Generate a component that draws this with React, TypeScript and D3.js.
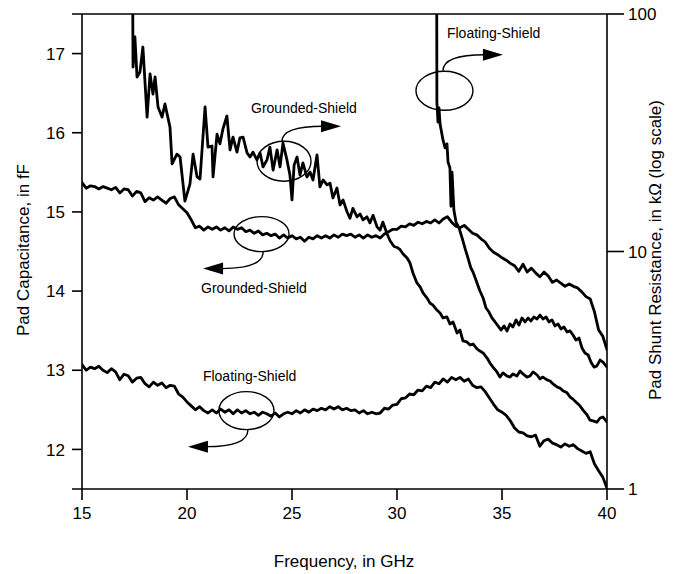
import React from 'react';
import * as d3 from 'd3';

// Measurement sweep: 15–40 GHz in 0.2 GHz steps (capacitance traces)
const capFreq: number[] = d3.range(0, 126).map((i) => +(15 + i * 0.2).toFixed(1));

// Pad capacitance, grounded shield (fF)
const groundedCap: number[] = [
  15.37, 15.30, 15.33, 15.32, 15.29, 15.32, 15.30, 15.28, 15.31, 15.24,
  15.29, 15.28, 15.20, 15.26, 15.24, 15.13, 15.18, 15.15, 15.19, 15.15,
  15.11, 15.17, 15.19, 15.09, 15.04, 14.99, 14.90, 14.80, 14.82, 14.77,
  14.81, 14.78, 14.81, 14.77, 14.80, 14.76, 14.81, 14.78, 14.80, 14.75,
  14.77, 14.73, 14.76, 14.71, 14.73, 14.70, 14.72, 14.67, 14.71, 14.67,
  14.70, 14.66, 14.68, 14.63, 14.68, 14.66, 14.70, 14.67, 14.70, 14.67,
  14.71, 14.68, 14.72, 14.70, 14.72, 14.68, 14.71, 14.67, 14.71, 14.68,
  14.70, 14.67, 14.72, 14.75, 14.78, 14.78, 14.82, 14.81, 14.85, 14.83,
  14.87, 14.85, 14.88, 14.86, 14.90, 14.86, 14.91, 14.94, 14.87, 14.82,
  14.80, 14.83, 14.78, 14.73, 14.71, 14.66, 14.62, 14.54, 14.49, 14.46,
  14.42, 14.39, 14.35, 14.32, 14.25, 14.34, 14.24, 14.29, 14.23, 14.18,
  14.24, 14.19, 14.11, 14.14, 14.10, 14.06, 14.09, 14.06, 14.04, 13.99,
  13.93, 13.90, 13.74, 13.51, 13.43, 13.26,
];

// Pad capacitance, floating shield (fF)
const floatingCap: number[] = [
  13.07, 13.00, 13.04, 13.02, 13.05, 13.00, 12.97, 13.02, 12.98, 12.88,
  12.95, 12.93, 12.85, 12.90, 12.91, 12.83, 12.79, 12.85, 12.81, 12.84,
  12.78, 12.81, 12.80, 12.70, 12.66, 12.60, 12.55, 12.50, 12.54, 12.49,
  12.46, 12.50, 12.46, 12.51, 12.47, 12.50, 12.45, 12.50, 12.46, 12.49,
  12.45, 12.47, 12.43, 12.47, 12.45, 12.42, 12.46, 12.41, 12.45, 12.47,
  12.45, 12.49, 12.46, 12.50, 12.47, 12.51, 12.49, 12.52, 12.50, 12.54,
  12.51, 12.54, 12.50, 12.52, 12.49, 12.50, 12.46, 12.49, 12.45, 12.47,
  12.45, 12.46, 12.52, 12.51, 12.56, 12.57, 12.64, 12.65, 12.70, 12.69,
  12.75, 12.74, 12.80, 12.78, 12.85, 12.83, 12.89, 12.85, 12.91, 12.88,
  12.91, 12.86, 12.89, 12.81, 12.78, 12.79, 12.73, 12.65, 12.57, 12.50,
  12.47, 12.43, 12.36, 12.27, 12.22, 12.21, 12.17, 12.16, 12.18, 12.04,
  12.11, 12.13, 12.08, 12.06, 12.03, 12.07, 12.04, 12.06, 12.01, 11.98,
  11.95, 11.97, 11.82, 11.73, 11.65, 11.51,
];

// Pad shunt resistance, grounded shield (GHz, kΩ)
const groundedResFreq: number[] = [
  17.33, 17.43, 17.52, 17.62, 17.76, 17.90, 18.10, 18.24, 18.38, 18.48,
  18.62, 18.81, 18.95, 19.19, 19.29, 19.52, 19.67, 19.90, 20.14, 20.29,
  20.48, 20.62, 20.86, 21.00, 21.19, 21.24, 21.43, 21.57, 21.71, 21.90,
  22.05, 22.19, 22.38, 22.52, 22.67, 22.86, 23.00, 23.14, 23.33, 23.48,
  23.62, 23.81, 23.95, 24.10, 24.29, 24.43, 24.57, 24.76, 24.90, 25.00,
  25.10, 25.24, 25.38, 25.52, 25.71, 25.86, 26.00, 26.19, 26.33, 26.48,
  26.67, 26.81, 26.95, 27.14, 27.29, 27.43, 27.62, 27.76, 27.90, 28.10,
  28.24, 28.38, 28.57, 28.71, 28.86, 29.05, 29.19, 29.33, 29.52, 29.67,
  29.86, 30.00, 30.14, 30.29, 30.48, 30.62, 30.76, 30.95, 31.10, 31.24,
  31.43, 31.57, 31.71, 31.90, 32.05, 32.19, 32.38, 32.52, 32.67, 32.86,
  33.00, 33.14, 33.33, 33.48, 33.62, 33.81, 33.95, 34.10, 34.29, 34.43,
  34.57, 34.76, 34.90, 35.05, 35.24, 35.38, 35.52, 35.71, 35.86, 36.00,
  36.19, 36.33, 36.48, 36.67, 36.81, 36.95, 37.14, 37.29, 37.43, 37.62,
  37.76, 37.90, 38.10, 38.24, 38.38, 38.57, 38.71, 38.86, 39.05, 39.19,
  39.38, 39.52, 39.67, 39.81, 40.00,
];
const groundedRes: number[] = [
  5000, 59.8, 80.0, 54.3, 57.0, 72.6, 36.8, 55.9, 46.0, 54.3,
  40.6, 36.8, 41.8, 33.4, 23.4, 25.7, 25.0, 16.3, 19.2, 25.7,
  20.6, 20.2, 40.6, 27.5, 27.8, 20.6, 31.2, 28.4, 32.8, 37.2,
  26.8, 30.3, 26.2, 30.1, 30.3, 26.0, 25.0, 26.2, 24.3, 26.0,
  22.7, 24.3, 27.5, 22.0, 26.8, 22.7, 28.6, 24.3, 21.0, 16.5,
  23.1, 25.0, 21.0, 23.6, 20.6, 21.6, 20.0, 25.5, 18.7, 20.0,
  19.1, 19.4, 16.8, 18.5, 15.7, 16.5, 14.7, 13.8, 15.2, 14.0,
  14.4, 13.6, 14.0, 13.2, 14.2, 12.7, 12.3, 13.3, 11.9, 11.1,
  10.5, 10.4, 10.2, 9.76, 9.39, 8.94, 8.12, 7.37, 7.09, 6.69,
  6.37, 6.07, 5.95, 5.67, 5.51, 5.25, 5.30, 4.95, 5.05, 4.54,
  4.67, 4.20, 4.16, 4.04, 4.08, 3.89, 3.81, 3.74, 3.56, 3.39,
  3.26, 3.11, 2.96, 3.08, 2.99, 2.96, 3.05, 2.99, 3.14, 3.05,
  2.96, 2.99, 3.11, 3.02, 2.91, 2.96, 2.88, 2.85, 2.77, 2.69,
  2.66, 2.59, 2.54, 2.44, 2.39, 2.30, 2.24, 2.15, 2.05, 1.95,
  1.93, 1.91, 1.99, 2.01, 1.91,
];

// Pad shunt resistance, floating shield (GHz, kΩ)
const floatingResFreq: number[] = [
  31.86, 31.90, 31.95, 32.00, 32.05, 32.19, 32.29, 32.38, 32.43, 32.52,
  32.57, 32.62, 32.71, 32.81, 32.95, 33.10, 33.24, 33.38, 33.52, 33.62,
  33.81, 33.95, 34.10, 34.24, 34.38, 34.52, 34.67, 34.81, 34.95, 35.10,
  35.24, 35.38, 35.52, 35.67, 35.81, 35.95, 36.10, 36.24, 36.38, 36.52,
  36.67, 36.81, 36.95, 37.10, 37.24, 37.38, 37.52, 37.67, 37.81, 37.95,
  38.10, 38.24, 38.38, 38.52, 38.67, 38.81, 38.95, 39.10, 39.24, 39.38,
  39.52, 39.67, 39.81, 40.00,
];
const floatingRes: number[] = [
  5000, 42.6, 35.1, 40.2, 34.4, 29.5, 27.3, 28.4, 23.8, 22.5,
  15.5, 21.6, 14.9, 13.3, 12.6, 11.4, 10.3, 9.39, 8.52, 8.20,
  7.37, 6.82, 6.37, 5.78, 5.56, 5.25, 5.05, 4.86, 4.67, 4.86,
  4.63, 4.95, 4.81, 5.15, 4.90, 5.25, 5.05, 5.25, 5.10, 5.30,
  5.20, 5.40, 5.20, 5.30, 5.05, 5.15, 4.86, 4.95, 4.72, 4.81,
  4.58, 4.63, 4.45, 4.24, 4.32, 3.92, 3.74, 3.67, 3.42, 3.26,
  3.30, 3.49, 3.42, 3.26,
];

const freqTicks = [15, 20, 25, 30, 35, 40];
const capTicks = [12, 13, 14, 15, 16, 17];
const resTicks = [1, 10, 100];

// Callouts: circled region (GHz, fF), label and arrow offsets in px from the ellipse centre
const callouts = [
  { label: 'Floating-Shield', f: 32.26, c: 16.53, rx: 28.5, ry: 19.5, text: [2.5, -53], start: [-1.5, -20], tip: [58.5, -36], dir: 1 },
  { label: 'Grounded-Shield', f: 24.62, c: 15.64, rx: 27, ry: 20, text: [-33, -48], start: [-2, -20], tip: [57, -35], dir: 1 },
  { label: 'Grounded-Shield', f: 23.55, c: 14.72, rx: 27.5, ry: 17.5, text: [-60.5, 58.5], start: [1.5, 18], tip: [-58.5, 34.5], dir: -1 },
  { label: 'Floating-Shield', f: 22.83, c: 12.49, rx: 27.5, ry: 19, text: [-43.5, -30], start: [1.5, 19], tip: [-58.5, 36], dir: -1 },
];

const FONT = "'Liberation Sans', Arial, Helvetica, sans-serif";

export default function App() {
  const W = 679;
  const H = 574;
  const left = 82, right = 607, top = 14, bottom = 489;

  const x = d3.scaleLinear().domain([15, 40]).range([left, right]);
  const yCap = d3.scaleLinear().domain([11.5, 17.5]).range([bottom, top]);
  const yRes = d3.scaleLog().domain([1, 100]).range([bottom, top]);

  const capLine = d3.line<[number, number]>().x((d) => x(d[0])).y((d) => yCap(d[1]));
  const resLine = d3.line<[number, number]>().x((d) => x(d[0])).y((d) => yRes(d[1]));

  const gc = capLine(capFreq.map((f, i) => [f, groundedCap[i]] as [number, number])) || '';
  const fc = capLine(capFreq.map((f, i) => [f, floatingCap[i]] as [number, number])) || '';
  const gr = resLine(groundedResFreq.map((f, i) => [f, groundedRes[i]] as [number, number])) || '';
  const fr = resLine(floatingResFreq.map((f, i) => [f, floatingRes[i]] as [number, number])) || '';

  const axisW = 1.6;
  const dataW = 2.8;
  const tickFont = 17;
  const titleFont = 17;

  return (
    <svg
      width={W}
      height={H}
      viewBox={`0 0 ${W} ${H}`}
      style={{ position: 'absolute', left: 0, top: 0, background: '#fff' }}
      fontFamily={FONT}
    >
      <defs>
        <clipPath id="plot-area">
          <rect x={left} y={top} width={right - left} height={bottom - top} />
        </clipPath>
      </defs>

      {/* frame */}
      <line x1={left - 10} x2={right} y1={top} y2={top} stroke="#000" strokeWidth={axisW} />
      <line x1={left - 10} x2={right} y1={bottom} y2={bottom} stroke="#000" strokeWidth={axisW} />
      <line x1={left} x2={left} y1={top} y2={bottom} stroke="#000" strokeWidth={axisW} />
      <line x1={right} x2={right} y1={top} y2={bottom} stroke="#000" strokeWidth={axisW} />

      {/* bottom axis */}
      {freqTicks.map((t) => (
        <g key={`fx${t}`}>
          <line x1={x(t)} x2={x(t)} y1={bottom} y2={bottom + 11} stroke="#000" strokeWidth={axisW} />
          <text x={x(t)} y={bottom + 30} textAnchor="middle" fontSize={tickFont}>{t}</text>
        </g>
      ))}

      {/* left axis */}
      {capTicks.map((t) => (
        <g key={`cy${t}`}>
          <line x1={left - 10} x2={left} y1={yCap(t)} y2={yCap(t)} stroke="#000" strokeWidth={axisW} />
          <text x={left - 17} y={yCap(t)} dy="0.36em" textAnchor="end" fontSize={tickFont}>{t}</text>
        </g>
      ))}

      {/* right axis (log) */}
      {resTicks.map((t) => (
        <g key={`ry${t}`}>
          <line x1={right} x2={right + 17} y1={yRes(t)} y2={yRes(t)} stroke="#000" strokeWidth={axisW} />
          <text x={right + 21} y={yRes(t)} dy="0.36em" textAnchor="start" fontSize={tickFont}>{t}</text>
        </g>
      ))}

      {/* axis titles */}
      <text x={344} y={567} textAnchor="middle" fontSize={titleFont}>Frequency, in GHz</text>
      <text transform={`translate(29,250) rotate(-90)`} textAnchor="middle" fontSize={titleFont}>Pad Capacitance, in fF</text>
      <text transform={`translate(661,250) rotate(-90)`} textAnchor="middle" fontSize={titleFont}>Pad Shunt Resistance, in kΩ (log scale)</text>

      {/* traces */}
      <g clipPath="url(#plot-area)" fill="none" stroke="#000" strokeWidth={dataW} strokeLinejoin="round" strokeLinecap="round">
        <path d={gc} />
        <path d={fc} />
        <path d={gr} />
        <path d={fr} />
      </g>

      {/* callouts */}
      {callouts.map((a, i) => {
        const cx = x(a.f);
        const cy = yCap(a.c);
        const sx = cx + a.start[0];
        const sy = cy + a.start[1];
        const tx = cx + a.tip[0];
        const ty = cy + a.tip[1];
        const bx = tx - 20 * a.dir;
        const path = `M${sx},${sy} Q${sx},${ty} ${bx + 2 * a.dir},${ty}`;
        const head = `${tx},${ty} ${bx},${ty - 6} ${bx},${ty + 6}`;
        return (
          <g key={`co${i}`}>
            <ellipse cx={cx} cy={cy} rx={a.rx} ry={a.ry} fill="none" stroke="#000" strokeWidth={1.4} />
            <path d={path} fill="none" stroke="#000" strokeWidth={1.4} />
            <polygon points={head} fill="#000" />
            <text x={cx + a.text[0]} y={cy + a.text[1]} fontSize={14}>{a.label}</text>
          </g>
        );
      })}
    </svg>
  );
}
